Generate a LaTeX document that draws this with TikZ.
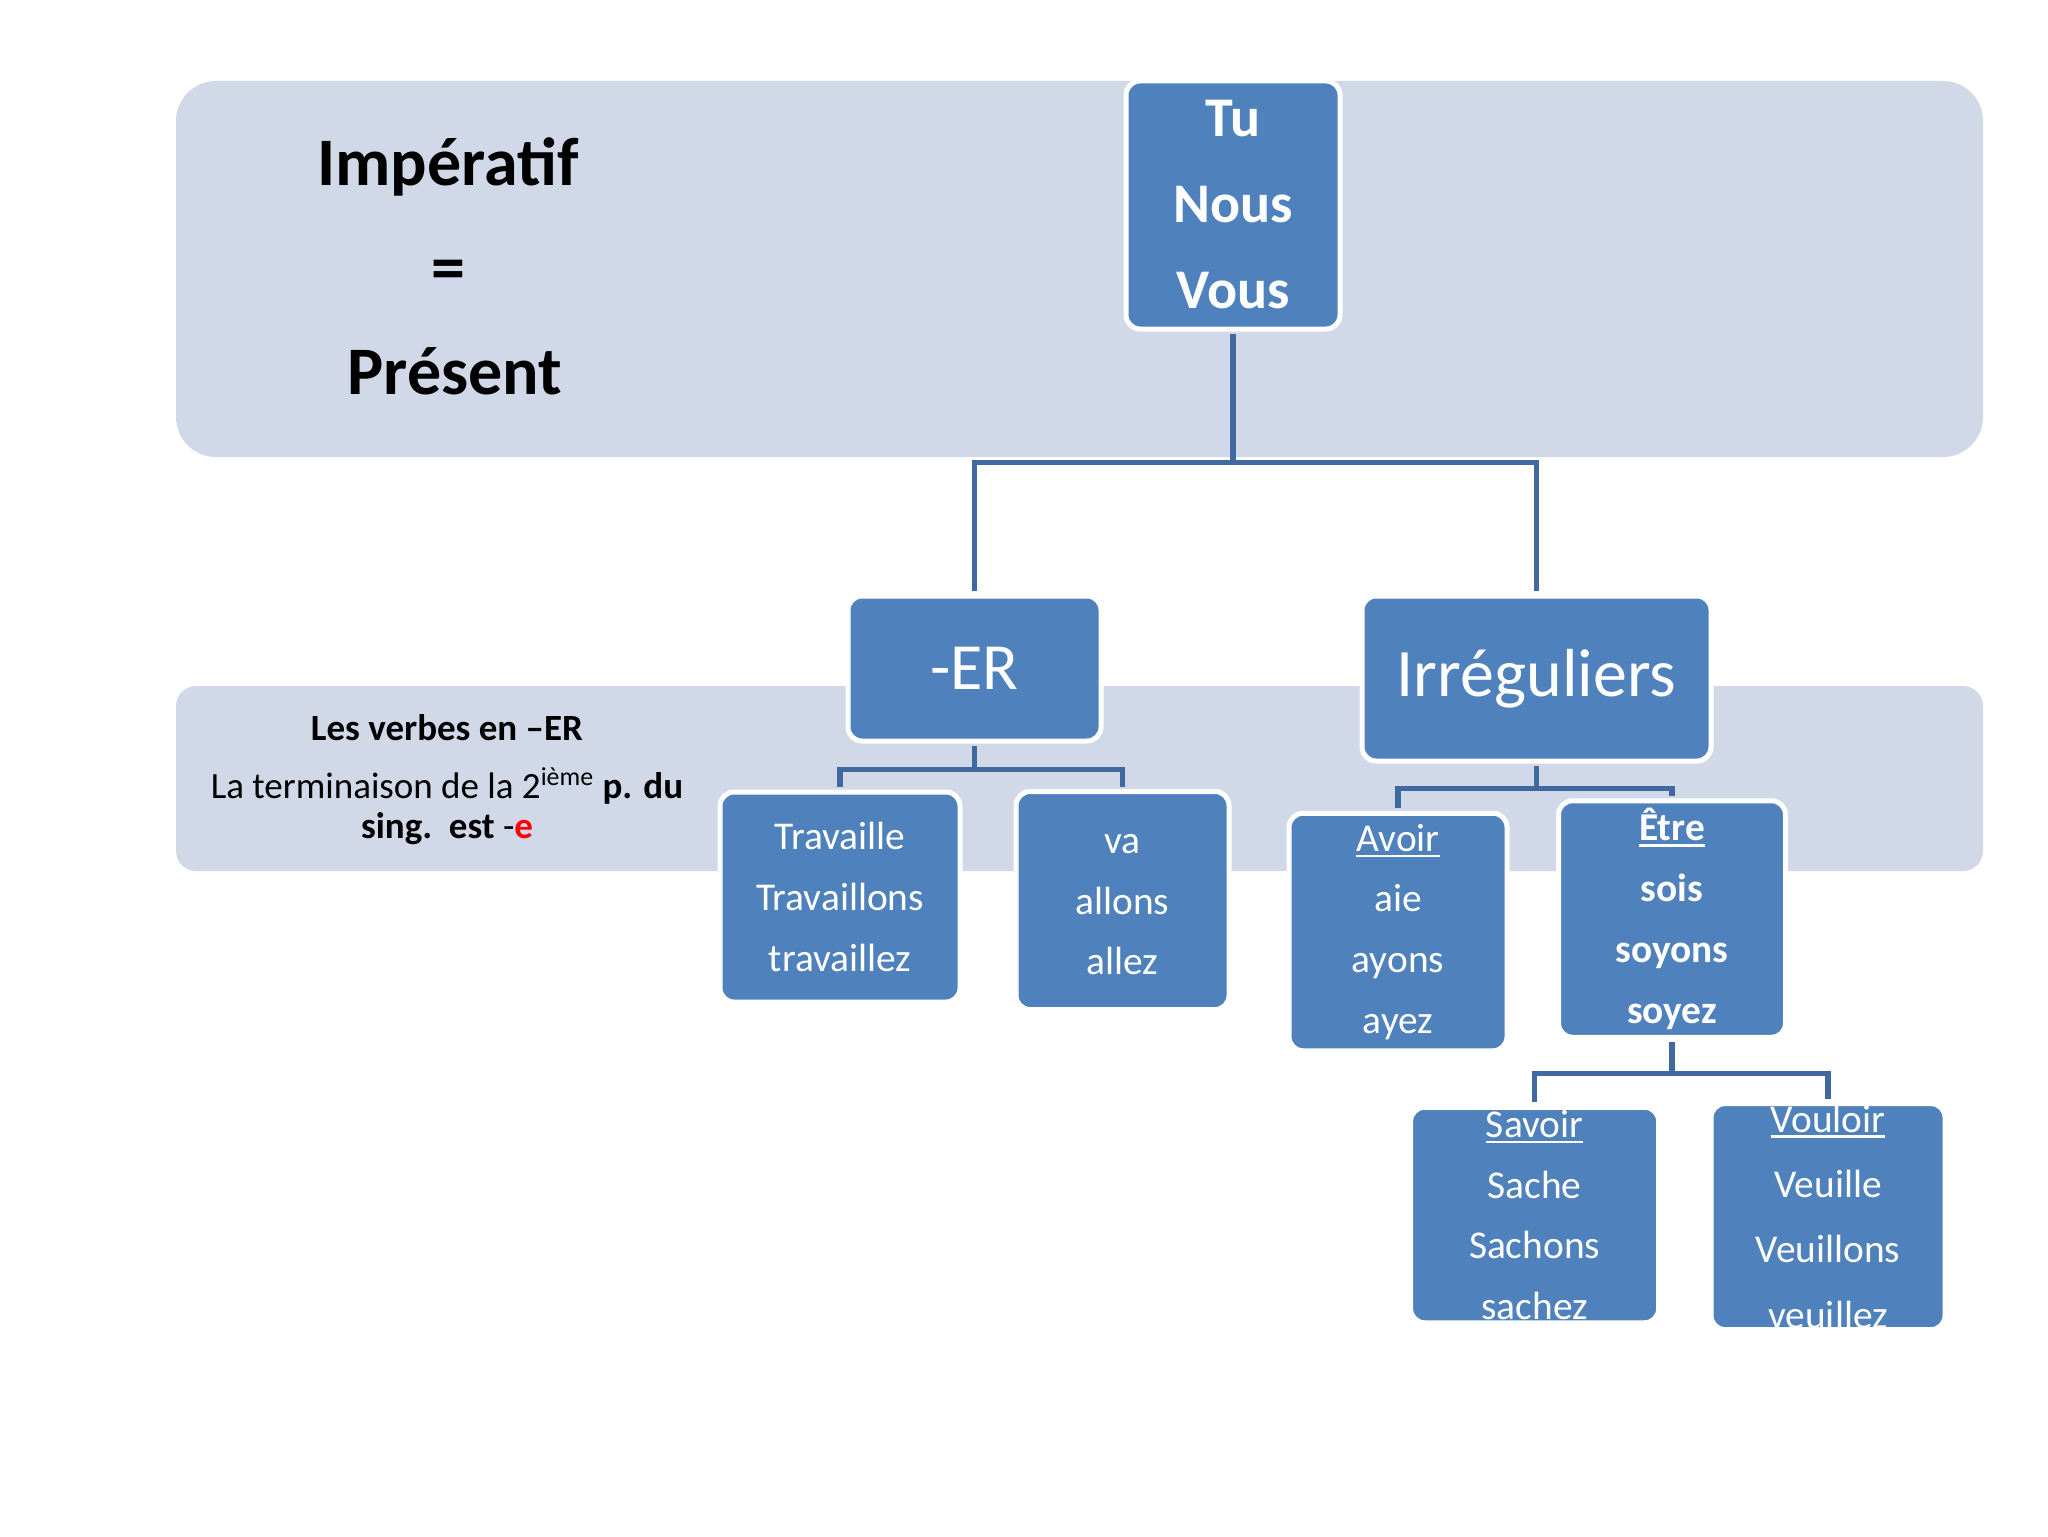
\documentclass[tikz,border=0pt]{standalone}
\usepackage{fontspec}
\setmainfont{Carlito}
\usetikzlibrary{calc}
\usetikzlibrary{positioning}

\definecolor{bandcol}{HTML}{D1D8E8}
\definecolor{boxcol}{HTML}{4F81BD}
\definecolor{linecol}{HTML}{3F69A0}

% thick underline for the verb names
\newcommand{\souligne}[1]{\setbox0\hbox{#1}\rlap{\rule[-3pt]{\wd0}{1.3pt}}\box0}

\tikzset{
band/.style={fill=bandcol,draw=none},
box/.style={draw=white,line width=2.5pt,fill=boxcol,rounded corners=7pt,text=white,align=center,inner sep=0pt},
conn/.style={draw=linecol,line width=2.7pt,shorten >=1.2pt,shorten <=1.2pt},
words/.style={font=\fontsize{19.7}{30.4}\selectfont},
title/.style={font=\fontsize{34}{40}\selectfont\bfseries},
rule/.style={font=\fontsize{18.5}{20}\selectfont,anchor=base},
}

\begin{document}
\begin{tikzpicture}[x=0.5pt,y=-0.5pt]
\useasboundingbox (0,0) rectangle (2048,1536);
\fill[white] (0,0) rectangle (2048,1536);

% background bands
\fill[band,rounded corners=20pt] (176,81) rectangle (1983,457);
\fill[band,rounded corners=10pt] (176,686) rectangle (1983,871);

% left texts
\node[title,anchor=base] (imp) at (448,185) {Impératif};
\node[title] (egal) at (448,275) {=};
\node[title,anchor=base] (pres) at (455,394) {Présent};

\node[rule,font=\fontsize{18.5}{20}\selectfont\bfseries] (regle a) at (447,740) {Les verbes en –ER};
\node[rule] (regle b) at (447,798) {La terminaison de la 2\textsuperscript{ième} \textbf{p. du}};
\node[rule] (regle c) at (447,838) {\textbf{sing.\ \ est} -\textcolor{red}{\textbf{e}}};

% boxes
\node[box,minimum width=107pt,minimum height=124pt,font=\fontsize{28}{43}\selectfont\bfseries] (tu) at (1233,205) {Tu\\Nous\\Vous};
\node[box,minimum width=126.5pt,minimum height=72.5pt,font=\fontsize{33}{40}\selectfont] (er) at (974.5,668.5) {-ER};
\node[box,minimum width=174.5pt,minimum height=82.5pt,font=\fontsize{34}{40}\selectfont] (irr) at (1536.5,678.5) {Irréguliers};

\node[box,words,minimum width=120pt,minimum height=105pt] (trav) at (840,897) {Travaille\\Travaillons\\travaillez};
\node[box,words,minimum width=106.5pt,minimum height=109pt] (aller) at (1122.5,900.5) {\vphantom{l}va\\allons\\allez};
\node[box,words,minimum width=109pt,minimum height=118.75pt] (avoir) at (1398,932) {\souligne{Avoir}\\aie\\ayons\\ayez};
\node[box,words,minimum width=113.5pt,minimum height=118.25pt,font=\fontsize{19.7}{30.4}\selectfont\bfseries] (etre) at (1672,919) {\souligne{Être}\\sois\\soyons\\soyez};
\node[box,words,minimum width=124pt,minimum height=107.75pt] (savoir) at (1534.6,1215) {\souligne{Savoir}\\Sache\\Sachons\\sachez};
\node[box,minimum width=117pt,minimum height=113pt,font=\fontsize{19.7}{32.7}\selectfont] (vouloir) at (1828,1216.6) {\souligne{Vouloir}\\Veuille\\Veuillons\\veuillez};

% connectors
\draw[conn] (tu.south) -- ++(0,131) coordinate (bus tu) -| (er.north);
\draw[conn] (bus tu) -| (irr.north);
\draw[conn] (er.south) -- ++(0,26) coordinate (bus er) -| (trav.north);
\draw[conn] (bus er) -| (aller.north);
\draw[conn] (irr.south) -- ++(0,25) coordinate (bus irr) -| (avoir.north);
\draw[conn] (bus irr) -| (etre.north);
\draw[conn] (etre.south) -- ++(0,34) coordinate (bus etre) -| (savoir.north);
\draw[conn] (bus etre) -| (vouloir.north);
\end{tikzpicture}
\end{document}
